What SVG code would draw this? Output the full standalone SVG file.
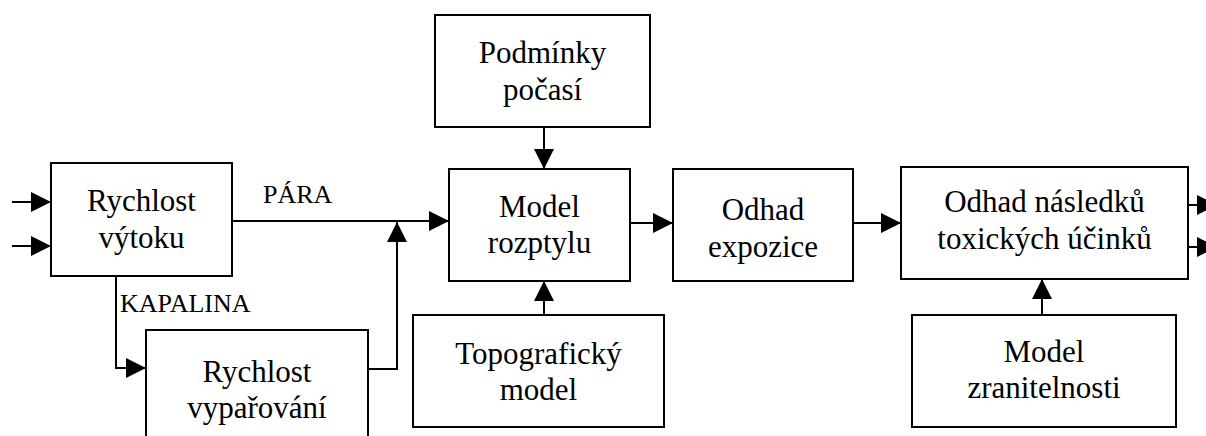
<svg xmlns="http://www.w3.org/2000/svg" width="1206" height="436" viewBox="0 0 1206 436">
<defs>
<style>
.box{fill:#fff;stroke:#000;stroke-width:2}
.t{font-family:"Liberation Serif","Times New Roman",serif;font-size:31px;fill:#000;text-anchor:middle}
.lbl{font-family:"Liberation Serif","Times New Roman",serif;font-size:26px;fill:#000}
.c{fill:none;stroke:#000;stroke-width:2}
</style>
<marker id="ah" markerUnits="userSpaceOnUse" markerWidth="20" markerHeight="20" refX="20" refY="10" orient="auto">
<path d="M0,0 L20,10 L0,20 Z" fill="#000"/>
</marker>
</defs>
<rect width="1206" height="436" fill="#fff"/>
<g id="connectors">
<line class="c" x1="12" y1="202" x2="51" y2="202" marker-end="url(#ah)"/>
<line class="c" x1="12" y1="246" x2="51" y2="246" marker-end="url(#ah)"/>
<line class="c" x1="232" y1="221" x2="449" y2="221" marker-end="url(#ah)"/>
<polyline class="c" points="116,276 116,368 146,368" marker-end="url(#ah)"/>
<polyline class="c" points="368,369 397,369 397,222" marker-end="url(#ah)"/>
<line class="c" x1="544" y1="127" x2="544" y2="169" marker-end="url(#ah)"/>
<line class="c" x1="544" y1="315" x2="544" y2="281" marker-end="url(#ah)"/>
<line class="c" x1="630" y1="223" x2="673" y2="223" marker-end="url(#ah)"/>
<line class="c" x1="853" y1="223" x2="901" y2="223" marker-end="url(#ah)"/>
<line class="c" x1="1042" y1="315" x2="1042" y2="279" marker-end="url(#ah)"/>
<line class="c" x1="1188" y1="205" x2="1217" y2="205" marker-end="url(#ah)"/>
<line class="c" x1="1188" y1="247" x2="1217" y2="247" marker-end="url(#ah)"/>
<text class="lbl" x="263" y="203">PÁRA</text>
<text class="lbl" x="120" y="312">KAPALINA</text>
</g>
<g id="rychlost-vytoku">
<rect class="box" x="51" y="163" width="181" height="113"/>
<text class="t" x="141.5" y="211">Rychlost</text>
<text class="t" x="141.5" y="248">výtoku</text>
</g>
<g id="rychlost-vyparovani">
<rect class="box" x="146" y="330" width="222" height="120"/>
<text class="t" x="257" y="382">Rychlost</text>
<text class="t" x="257" y="418">vypařování</text>
</g>
<g id="podminky-pocasi">
<rect class="box" x="435" y="15" width="215" height="112"/>
<text class="t" x="542.5" y="63">Podmínky</text>
<text class="t" x="542.5" y="100">počasí</text>
</g>
<g id="model-rozptylu">
<rect class="box" x="449" y="169" width="181" height="112"/>
<text class="t" x="539.5" y="217">Model</text>
<text class="t" x="539.5" y="253">rozptylu</text>
</g>
<g id="topograficky-model">
<rect class="box" x="413" y="315" width="251" height="112"/>
<text class="t" x="538.5" y="364">Topografický</text>
<text class="t" x="538.5" y="400">model</text>
</g>
<g id="odhad-expozice">
<rect class="box" x="673" y="169" width="180" height="112"/>
<text class="t" x="763" y="220">Odhad</text>
<text class="t" x="763" y="257">expozice</text>
</g>
<g id="odhad-nasledku">
<rect class="box" x="901" y="167" width="287" height="112"/>
<text class="t" x="1044.5" y="212">Odhad následků</text>
<text class="t" x="1044.5" y="249">toxických účinků</text>
</g>
<g id="model-zranitelnosti">
<rect class="box" x="912" y="315" width="264" height="112"/>
<text class="t" x="1044" y="362">Model</text>
<text class="t" x="1044" y="398">zranitelnosti</text>
</g>
</svg>
